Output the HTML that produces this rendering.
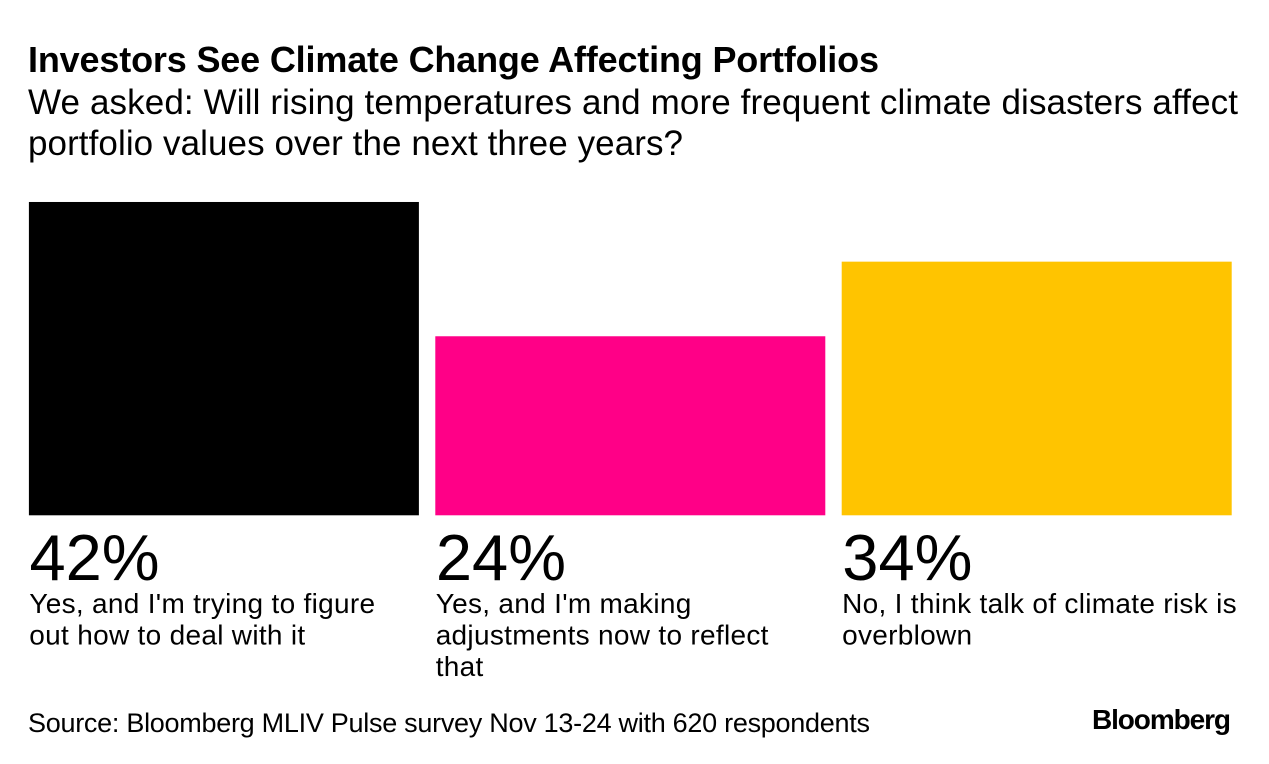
<!DOCTYPE html>
<html lang="en">
<head>
<meta charset="utf-8">
<title>Investors See Climate Change Affecting Portfolios</title>
<style>
html,body{margin:0;padding:0;background:#fff;width:1269px;height:764px;overflow:hidden}
svg{display:block}
text{font-family:"Liberation Sans",Arial,sans-serif;fill:#000}
</style>
</head>
<body>
<svg id="chart" width="1269" height="764" viewBox="0 0 1269 764" xmlns="http://www.w3.org/2000/svg">
<rect width="1269" height="764" fill="#fff"/>
<text x="28" y="72" font-size="36" font-weight="700" textLength="851" lengthAdjust="spacing">Investors See Climate Change Affecting Portfolios</text>
<text x="28" y="114" font-size="35" textLength="1210" lengthAdjust="spacing">We asked: Will rising temperatures and more frequent climate disasters affect</text>
<text x="28" y="155" font-size="35" textLength="655" lengthAdjust="spacing">portfolio values over the next three years?</text>
<g id="bars"></g>
<g id="labels"></g>
<text x="28" y="732" font-size="27" textLength="842" lengthAdjust="spacing">Source: Bloomberg MLIV Pulse survey Nov 13-24 with 620 respondents</text>
<text x="1092" y="729" font-size="28" font-weight="700" textLength="139" lengthAdjust="spacing">Bloomberg</text>
</svg>
<script>
const values = [42, 24, 34];
const categoryLines = [
  ["Yes, and I'm trying to figure", "out how to deal with it"],
  ["Yes, and I'm making", "adjustments now to reflect", "that"],
  ["No, I think talk of climate risk is", "overblown"]
];
const seriesColors = ["#000000", "#ff0087", "#ffc400"];

const NS = "http://www.w3.org/2000/svg";
const baselineY = 515.3;
const unitHeight = 7.46;
const bandStart = 28.9;
const bandStep = 406.4;
const bandWidth = 390;
const valueY = function (v) { return baselineY - v * unitHeight; };
const bandX = function (i) { return bandStart + i * bandStep; };

const barsGroup = document.getElementById("bars");
const labelsGroup = document.getElementById("labels");

values.forEach(function (v, i) {
  const bar = document.createElementNS(NS, "rect");
  
  
  bar.setAttribute("x", bandX(i));
  bar.setAttribute("y", valueY(v));
  bar.setAttribute("width", bandWidth);
  bar.setAttribute("height", baselineY - valueY(v));
  bar.setAttribute("fill", seriesColors[i]);
  barsGroup.appendChild(bar);

  const pct = document.createElementNS(NS, "text");
  
  
  pct.setAttribute("x", bandX(i) + 0.6);
  pct.setAttribute("y", 580);
  pct.setAttribute("font-size", "65");
  pct.textContent = v + "%";
  labelsGroup.appendChild(pct);

  categoryLines[i].forEach(function (line, j) {
    const t = document.createElementNS(NS, "text");
    
    
    t.setAttribute("x", bandX(i) + 0.4);
    t.setAttribute("y", 613 + j * 31.5);
    t.setAttribute("font-size", "28");
    t.setAttribute("letter-spacing", "0.3");
    t.textContent = line;
    labelsGroup.appendChild(t);
  });
});
</script>
</body>
</html>
